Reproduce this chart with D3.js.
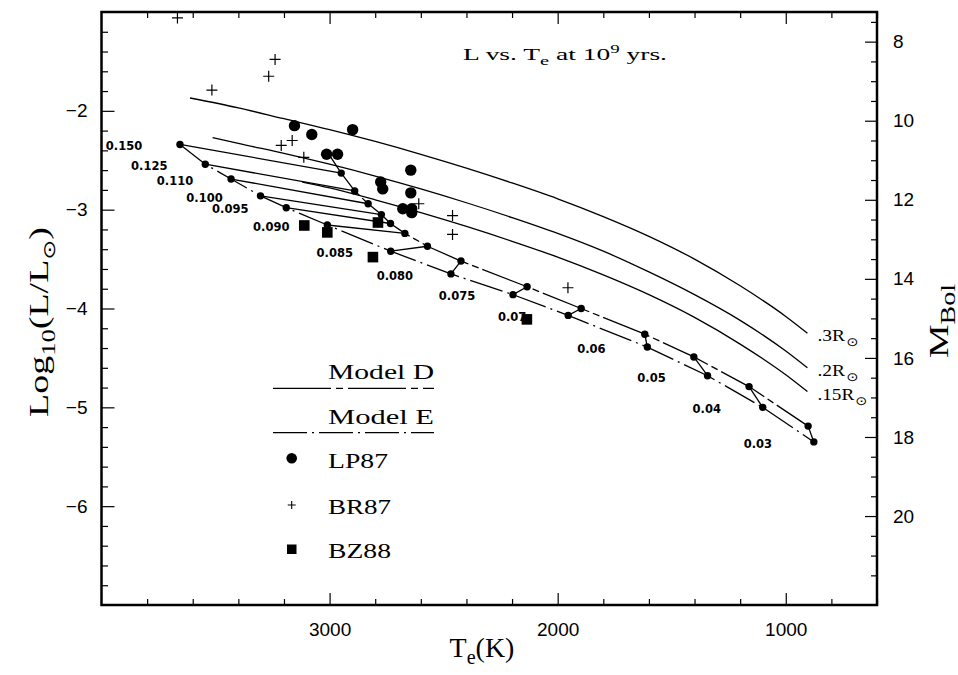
<!DOCTYPE html>
<html>
<head>
<meta charset="utf-8">
<script src="https://cdn.jsdelivr.net/npm/d3@7"></script>
<style>
  body { margin: 0; background: #fff; }
  svg { display: block; }
</style>
</head>
<body>
<div id="chart"></div>
<script>
// L vs. Te at 10^9 yrs

// constant radius lines (.3, .2, .15 Rsun)
var r30T = [3612, 3400, 3200, 3000, 2800, 2600, 2400, 2200, 2000, 1800, 1600, 1400, 1200, 1000, 905];
var r30L = [-1.87, -1.97, -2.08, -2.19, -2.31, -2.44, -2.58, -2.73, -2.89, -3.07, -3.27, -3.50, -3.77, -4.08, -4.25];
var r20T = [3513, 3400, 3200, 3000, 2800, 2600, 2400, 2200, 2000, 1800, 1600, 1400, 1200, 1000, 905];
var r20L = [-2.27, -2.33, -2.43, -2.54, -2.66, -2.79, -2.93, -3.08, -3.24, -3.42, -3.63, -3.86, -4.12, -4.43, -4.60];
var r15T = [3120, 3000, 2800, 2600, 2400, 2200, 2000, 1800, 1600, 1400, 1200, 1000, 905];
var r15L = [-2.72, -2.78, -2.90, -3.03, -3.17, -3.32, -3.48, -3.66, -3.86, -4.09, -4.36, -4.67, -4.84];
var radiusNames = [".3R", ".2R", ".15R"];

// model tracks, one entry per mass
var masses = ["0.150", "0.125", "0.110", "0.100", "0.095", "0.090", "0.085", "0.080", "0.075", "0.07", "0.06", "0.05", "0.04", "0.03"];
var eT = [3656, 3545, 3432, 3303, 3190, 3010, 2732, 2468, 2196, 1954, 1607, 1343, 1101, 877];
var eL = [-2.34, -2.54, -2.69, -2.86, -2.98, -3.155, -3.42, -3.65, -3.86, -4.07, -4.39, -4.68, -5.00, -5.35];
var dT = [2949, 2890, 2831, 2773, 2733, 2670, 2571, 2424, 2134, 1897, 1618, 1403, 1161, 902];
var dL = [-2.63, -2.81, -2.94, -3.05, -3.14, -3.24, -3.37, -3.52, -3.78, -4.00, -4.26, -4.49, -4.79, -5.19];
// model D line runs on a little above the 0.150 point
var dTopT = 3000;
var dTopL = -2.45;

// observations
var lpT = [3154, 3078, 2899, 3013, 2965, 2644, 2776, 2767, 2644, 2679, 2640, 2640];
var lpL = [-2.15, -2.24, -2.19, -2.44, -2.44, -2.60, -2.72, -2.79, -2.83, -2.99, -2.99, -3.03];
var brT = [3667, 3239, 3267, 3516, 3212, 3164, 3113, 2609, 2461, 2461, 1955];
var brL = [-1.06, -1.48, -1.65, -1.79, -2.35, -2.30, -2.47, -2.94, -3.06, -3.25, -3.79];
var bzT = [3111, 3010, 2788, 2810, 2135];
var bzL = [-3.16, -3.23, -3.13, -3.48, -4.11];

// tick labels
var xTicks = [3000, 2000, 1000];
var yTicks = [-2, -3, -4, -5, -6];
var mTicks = [8, 10, 12, 14, 16, 18, 20];
var legendLabels = ["Model D", "Model E", "LP87", "BR87", "BZ88"];

//svg container dimensions
var svgWidth = 958;
var svgHeight = 675;

var margin = {
  top: 12,
  right: 81,
  bottom: 70,
  left: 101.5
};

var chartWidth = svgWidth - margin.left - margin.right;
var chartHeight = svgHeight - margin.top - margin.bottom;

var svg = d3.select("#chart").append("svg")
    .attr("width", svgWidth)
    .attr("height", svgHeight);

var chartGroup = svg.append("g")
    .attr("transform", `translate(${margin.left}, ${margin.top})`);

// scales (temperature runs backwards, Mbol is tied to log L)
var xScale = d3.scaleLinear().domain([4000, 600]).range([0, chartWidth]);
var yScale = d3.scaleLinear().domain([-1, -7]).range([0, chartHeight]);
var mScale = d3.scaleLinear().domain([7.25, 22.25]).range([0, chartHeight]);

var xMinor = d3.range(3800, 500, -200).filter(v => v % 1000 !== 0);
var yMinor = d3.range(-1.2, -7, -0.2).filter(v => Math.abs(v - Math.round(v)) > 0.01);
var mMinor = d3.range(7.5, 22.1, 0.5).filter(v => v % 2 !== 0);

var tickFont = "'Liberation Sans', Arial, sans-serif";
var serif = "'Liberation Serif', 'Times New Roman', serif";
var intFormat = d3.format("d");

function drawAxis(axis, transform) {
  var g = chartGroup.append("g")
      .attr("transform", transform)
      .call(axis);
  g.select(".domain").remove();
  g.selectAll("line").attr("stroke", "#000").attr("stroke-width", 1.2);
  g.selectAll("text")
      .attr("font-family", tickFont)
      .attr("font-size", 19)
      .attr("fill", "#000");
  return g;
}

// bottom + top
drawAxis(d3.axisBottom(xScale).tickValues(xTicks).tickSize(-12).tickPadding(18).tickFormat(intFormat),
  `translate(0, ${chartHeight})`);
drawAxis(d3.axisBottom(xScale).tickValues(xMinor).tickSize(-6).tickFormat(""), `translate(0, ${chartHeight})`);
drawAxis(d3.axisTop(xScale).tickValues(xTicks).tickSize(-12).tickFormat(""), "translate(0, 0)");
drawAxis(d3.axisTop(xScale).tickValues(xMinor).tickSize(-6).tickFormat(""), "translate(0, 0)");

// left
drawAxis(d3.axisLeft(yScale).tickValues(yTicks).tickSize(-13).tickPadding(14).tickFormat(intFormat), "translate(0, 0)");
drawAxis(d3.axisLeft(yScale).tickValues(yMinor).tickSize(-6.5).tickFormat(""), "translate(0, 0)");

// right (Mbol)
drawAxis(d3.axisRight(mScale).tickValues(mTicks).tickSize(-12).tickPadding(16).tickFormat(intFormat),
  `translate(${chartWidth}, 0)`);
drawAxis(d3.axisRight(mScale).tickValues(mMinor).tickSize(-6).tickFormat(""), `translate(${chartWidth}, 0)`);

// frame
chartGroup.append("rect")
    .attr("width", chartWidth)
    .attr("height", chartHeight)
    .attr("fill", "none")
    .attr("stroke", "#000")
    .attr("stroke-width", 2.5);

var dashD = "50,4,7,4";
var dashE = "34,5,2,5";

var line = d3.line()
    .x(d => xScale(d[0]))
    .y(d => yScale(d[1]));
var smooth = d3.line()
    .x(d => xScale(d[0]))
    .y(d => yScale(d[1]))
    .curve(d3.curveMonotoneX);

// radius lines
var radiusLines = [d3.zip(r30T, r30L), d3.zip(r20T, r20L), d3.zip(r15T, r15L)];
chartGroup.selectAll(".rline")
    .data(radiusLines)
    .enter()
    .append("path")
    .attr("class", "rline")
    .attr("d", smooth)
    .attr("fill", "none")
    .attr("stroke", "#000")
    .attr("stroke-width", 1.3);

// model D / model E tracks
var dTrack = [[dTopT, dTopL]].concat(d3.zip(dT, dL));
var eTrack = d3.zip(eT, eL);

chartGroup.append("path")
    .attr("d", line(dTrack))
    .attr("fill", "none")
    .attr("stroke", "#000")
    .attr("stroke-width", 1.3)
    .attr("stroke-dasharray", dashD);

chartGroup.append("path")
    .attr("d", line(eTrack))
    .attr("fill", "none")
    .attr("stroke", "#000")
    .attr("stroke-width", 1.3)
    .attr("stroke-dasharray", dashE);

// same mass joined between the two models
chartGroup.selectAll(".mline")
    .data(masses)
    .enter()
    .append("path")
    .attr("class", "mline")
    .attr("d", (d, i) => line([[dT[i], dL[i]], [eT[i], eL[i]]]))
    .attr("fill", "none")
    .attr("stroke", "#000")
    .attr("stroke-width", 1.3);

chartGroup.selectAll(".ddot")
    .data(dTrack.slice(1).concat(eTrack))
    .enter()
    .append("circle")
    .attr("class", "ddot")
    .attr("cx", d => xScale(d[0]))
    .attr("cy", d => yScale(d[1]))
    .attr("r", 3.7)
    .attr("fill", "#000");

chartGroup.selectAll(".mlabel")
    .data(masses)
    .enter()
    .append("text")
    .attr("class", "mlabel")
    .text(d => d)
    .attr("x", (d, i) => xScale(eT[i]) - 56)
    .attr("y", (d, i) => yScale(eL[i]) + 5.8)
    .attr("text-anchor", "middle")
    .attr("font-family", "'DejaVu Sans', sans-serif")
    .attr("font-weight", "bold")
    .attr("font-size", 11.5);

// LP87
chartGroup.selectAll(".lp")
    .data(d3.zip(lpT, lpL))
    .enter()
    .append("circle")
    .attr("class", "lp")
    .attr("cx", d => xScale(d[0]))
    .attr("cy", d => yScale(d[1]))
    .attr("r", 5.7)
    .attr("fill", "#000");

// BR87 crosses
chartGroup.selectAll(".br")
    .data(d3.zip(brT, brL))
    .enter()
    .append("path")
    .attr("class", "br")
    .attr("d", d => {
      var x = xScale(d[0]), y = yScale(d[1]);
      return `M${x - 5.5},${y}H${x + 5.5}M${x},${y - 5.5}V${y + 5.5}`;
    })
    .attr("stroke", "#000")
    .attr("stroke-width", 1.2);

// BZ88 squares
chartGroup.selectAll(".bz")
    .data(d3.zip(bzT, bzL))
    .enter()
    .append("rect")
    .attr("class", "bz")
    .attr("x", d => xScale(d[0]) - 5.3)
    .attr("y", d => yScale(d[1]) - 5.3)
    .attr("width", 10.6)
    .attr("height", 10.6)
    .attr("fill", "#000");

// radius labels at the end of each line
var rLab = chartGroup.selectAll(".rlabel")
    .data(radiusNames)
    .enter()
    .append("text")
    .attr("class", "rlabel")
    .attr("x", (d, i) => xScale(radiusLines[i][radiusLines[i].length - 1][0]) + 10)
    .attr("y", (d, i) => yScale(radiusLines[i][radiusLines[i].length - 1][1]) + 8)
    .attr("font-family", serif)
    .attr("font-size", 16)
    .attr("textLength", (d, i) => i === 2 ? 50 : 41)
    .attr("lengthAdjust", "spacingAndGlyphs");
rLab.append("tspan").text(d => d);
rLab.append("tspan")
    .text("\u2299")
    .attr("font-family", "'DejaVu Sans', sans-serif")
    .attr("font-size", 12)
    .attr("dx", 1)
    .attr("dy", 5);

// title
var title = svg.append("text")
    .attr("x", 463)
    .attr("y", 60)
    .attr("font-family", serif)
    .attr("font-size", 17.5)
    .attr("textLength", 204)
    .attr("lengthAdjust", "spacingAndGlyphs");
title.append("tspan").text("L vs. T");
title.append("tspan").text("e").attr("font-size", 13).attr("dy", 5);
title.append("tspan").text(" at 10").attr("dy", -5);
title.append("tspan").text("9").attr("font-size", 12).attr("dy", -7);
title.append("tspan").text(" yrs.").attr("dy", 7);

// axis titles
var xTitle = svg.append("text")
    .attr("x", 482)
    .attr("y", 657)
    .attr("text-anchor", "middle")
    .attr("font-family", serif)
    .attr("font-size", 28);
xTitle.append("tspan").text("T");
xTitle.append("tspan").text("e").attr("font-size", 20).attr("dy", 7);
xTitle.append("tspan").text("(K)").attr("dy", -7);

var yTitle = svg.append("text")
    .attr("transform", "translate(48, 322) rotate(-90)")
    .attr("text-anchor", "middle")
    .attr("font-family", serif)
    .attr("font-size", 27)
    .attr("textLength", 190)
    .attr("lengthAdjust", "spacingAndGlyphs");
yTitle.append("tspan").text("Log");
yTitle.append("tspan").text("10").attr("font-size", 19).attr("dy", 7);
yTitle.append("tspan").text("(L/L").attr("dy", -7);
yTitle.append("tspan").text("\u2299").attr("font-family", "'DejaVu Sans', sans-serif").attr("font-size", 17).attr("dy", 7);
yTitle.append("tspan").text(")").attr("dy", -7);

var mTitle = svg.append("text")
    .attr("transform", "translate(948, 321) rotate(-90)")
    .attr("text-anchor", "middle")
    .attr("font-family", serif)
    .attr("font-size", 27)
    .attr("textLength", 74)
    .attr("lengthAdjust", "spacingAndGlyphs");
mTitle.append("tspan").text("M");
mTitle.append("tspan").text("Bol").attr("font-size", 20).attr("dy", 7);

// legend
var legend = svg.append("g");
var legendX = 328;
var legendY = [379.3, 424, 468.3, 514, 558.3];
var legendW = [106, 106, 60, 63, 63];

legend.selectAll("text")
    .data(legendLabels)
    .enter()
    .append("text")
    .text(d => d)
    .attr("x", legendX)
    .attr("y", (d, i) => legendY[i])
    .attr("font-family", serif)
    .attr("font-size", 21)
    .attr("textLength", (d, i) => legendW[i])
    .attr("lengthAdjust", "spacingAndGlyphs");

legend.append("line")
    .attr("x1", 273).attr("x2", 434)
    .attr("y1", 388.3).attr("y2", 388.3)
    .attr("stroke", "#000").attr("stroke-width", 1.3)
    .attr("stroke-dasharray", "58,5,7,5");
legend.append("line")
    .attr("x1", 273).attr("x2", 434)
    .attr("y1", 432.7).attr("y2", 432.7)
    .attr("stroke", "#000").attr("stroke-width", 1.3)
    .attr("stroke-dasharray", dashE);

legend.append("circle")
    .attr("cx", 291.7).attr("cy", 458.3).attr("r", 5.3).attr("fill", "#000");
legend.append("path")
    .attr("d", "M287.7,505H295.7M291.7,501V509")
    .attr("stroke", "#000").attr("stroke-width", 1.1);
legend.append("rect")
    .attr("x", 287).attr("y", 544.5).attr("width", 9.5).attr("height", 9.5).attr("fill", "#000");
</script>
</body>
</html>
